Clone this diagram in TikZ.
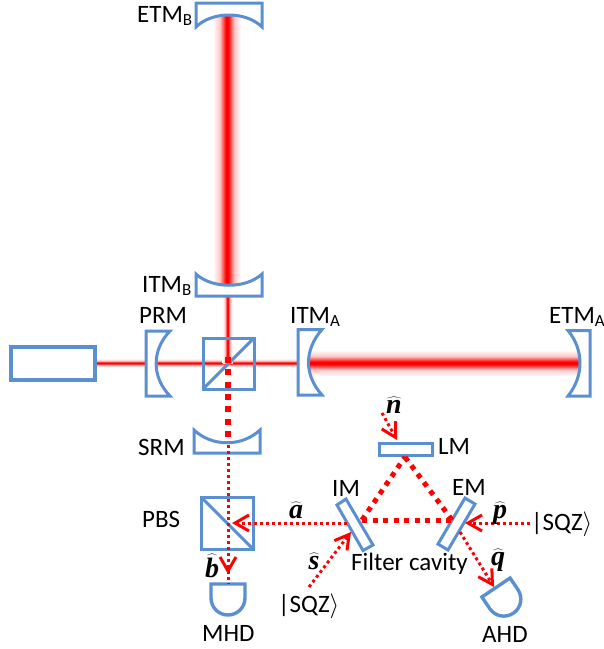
\documentclass[tikz,border=0pt]{standalone}
\usepackage{fontspec}
\setmainfont{Carlito}
\newfontfamily\hatfont{Liberation Serif}[BoldItalicFont=* Bold Italic]
\usetikzlibrary{arrows.meta,calc}
\definecolor{optic}{HTML}{5A8FD2}
\definecolor{beamred}{HTML}{FF0000}
\pgfdeclarehorizontalshading{beamh}{100bp}{rgb(0bp)=(1,1,1);rgb(25bp)=(1,1,1);rgb(37bp)=(1,.78,.78);rgb(45bp)=(1,.2,.2);rgb(48bp)=(1,0,0);rgb(52bp)=(1,0,0);rgb(55bp)=(1,.2,.2);rgb(63bp)=(1,.78,.78);rgb(75bp)=(1,1,1);rgb(100bp)=(1,1,1)}
\pgfdeclareverticalshading{beamv}{100bp}{rgb(0bp)=(1,1,1);rgb(25bp)=(1,1,1);rgb(37bp)=(1,.78,.78);rgb(45bp)=(1,.2,.2);rgb(48bp)=(1,0,0);rgb(52bp)=(1,0,0);rgb(55bp)=(1,.2,.2);rgb(63bp)=(1,.78,.78);rgb(75bp)=(1,1,1);rgb(100bp)=(1,1,1)}
\newcommand{\hatlab}[1]{$\widehat{\hbox{\hatfont\bfseries\itshape #1}}$}
\newcommand{\subs}[1]{\raisebox{-0.28ex}{\fontsize{17}{17}\selectfont #1}}
\newcommand{\sqzket}{|SQZ$\rangle$}
\tikzset{
  x=1pt,y=-1pt,
  opticline/.style={draw=optic,line width=3pt,fill=white,line join=miter},
  boxline/.style={draw=optic,line width=3pt,inner sep=0pt,outer sep=0pt},
  lab/.style={inner sep=0pt,anchor=base west,font=\fontsize{25}{27}\selectfont,text=black},
  hlab/.style={inner sep=0pt,anchor=base,font=\fontsize{28}{30}\selectfont,text=black},
  thindot/.style={draw=beamred,line width=3pt,dash pattern=on 3pt off 3pt},
  thickdot/.style={draw=beamred,line width=5.8pt,dash pattern=on 6pt off 6.3pt},
  cavdot/.style={draw=beamred,line width=5pt,dash pattern=on 5pt off 5.5pt},
  tipped/.style={thindot,-{Straight Barb[length=14pt,width=16pt,line width=3pt]}},
  detector/.pic={
    \draw[draw=optic,line width=3.4pt,line join=miter,fill=white]
      (-17,0) -- (17,0) -- (17,14)
      .. controls (17,23.4) and (9.4,31) .. (0,31)
      .. controls (-9.4,31) and (-17,23.4) .. (-17,14) -- cycle;
  },
}
\begin{document}
\begin{tikzpicture}
\useasboundingbox (0,0) rectangle (604,649);
% anchor points
\coordinate (ctr) at (228,363);
\coordinate (srmtop) at (228,445);
\coordinate (imhit) at (362,520);
\coordinate (emhit) at (452,520);
\coordinate (lmhit) at (405,457);
\coordinate (mhdtop) at (228,584);
\coordinate (btip) at (228,574);
\coordinate (atip) at (232,523);
\coordinate (imback) at (347,523);
\coordinate (sstart) at (309,587);
\coordinate (stip) at (351,532);
\coordinate (pstart) at (530,523);
\coordinate (ptip) at (465,523);
\coordinate (qstart) at (460,532);
\coordinate (qtip) at (494,587);
\coordinate (nstart) at (382,413);
\coordinate (ntip) at (397,440);
% beams
\shade[shading=beamv] (96,358.5) rectangle (300,367.5);
\shade[shading=beamv] (305,350) rectangle (582,376);
\shade[shading=beamh] (213,10) rectangle (241,290);
\shade[shading=beamh] (222.5,292) rectangle (232.5,363);
% laser
\node[draw=optic,line width=3.8pt,inner sep=0pt,outer sep=0pt,minimum width=84pt,minimum height=33pt,fill=white] (laser) at (53,363.5) {};
% mirrors
\path[opticline] (196,3) -- (262,3) -- (262,27) .. controls (246,11) and (212,11) .. (196,27) -- cycle;
\path[opticline] (196,274) .. controls (212,289) and (246,289) .. (262,274) -- (262,296) -- (196,296) -- cycle;
\path[opticline] (146,331) -- (170,331) .. controls (151.5,350) and (151.5,377) .. (170,396) -- (146,396) -- cycle;
\path[opticline] (298,329.5) -- (322,329.5) .. controls (304,350) and (304,375) .. (322,395) -- (298,395) -- cycle;
\path[opticline] (590,330.5) -- (568,330.5) .. controls (584,350) and (584,376) .. (568,396) -- (590,396) -- cycle;
\path[opticline] (194,430) .. controls (212,447) and (242,447) .. (260,430) -- (260,453) -- (194,453) -- cycle;
% beam splitter
\node[boxline,minimum size=51pt] (bs) at (228.5,363.5) {};
\draw[draw=optic,line width=3pt] (bs.south west) -- (bs.north east);
% PBS
\node[boxline,minimum size=52pt] (pbs) at (227.5,523.5) {};
\draw[draw=optic,line width=3pt] (pbs.north west) -- (pbs.south east);
% filter cavity mirrors
\path[opticline] (337,505) -- (346,499) -- (373,545) -- (363,550.5) -- cycle;
\path[opticline] (465,498) -- (475,504) -- (448,550) -- (438,544) -- cycle;
\node[boxline,fill=white,minimum width=53pt,minimum height=12pt] (lm) at (405.5,449) {};
% detectors
\pic at (228,584) {detector};
\pic[rotate=34] at (496,587.5) {detector};
% dotted beams
\draw[thickdot] ($(ctr)+(0,-6)$) -- ($(srmtop)+(0,-6)$);
\draw[thindot] (srmtop) -- (mhdtop);
\draw[tipped] (srmtop) -- (btip);
\draw[cavdot] (imhit) -- (emhit);
\draw[cavdot] (imhit) -- (lmhit);
\draw[cavdot] (emhit) -- (lmhit);
\draw[tipped] (imback) -- (atip);
\draw[tipped] (sstart) -- (stip);
\draw[tipped] (pstart) -- (ptip);
\draw[tipped] (qstart) -- (qtip);
\draw[tipped] (nstart) -- (ntip);
% labels
\node[lab] (letmb) at (137,22) {ETM\subs{B}};
\node[lab] (litmb) at (142,292) {ITM\subs{B}};
\node[lab] (lprm) at (139,323) {PRM};
\node[lab] (litma) at (290,323) {ITM\subs{A}};
\node[lab] (letma) at (549,323) {ETM\subs{A}};
\node[lab] (lsrm) at (138,455) {SRM};
\node[lab] (lpbs) at (142,527) {PBS};
\node[lab] (lmhd) at (202,641) {MHD};
\node[lab] (lim) at (332,496) {IM};
\node[lab] (llm) at (438,454) {LM};
\node[lab] (lem) at (452,495) {EM};
\node[lab] (lfc) at (351,570) {Filter cavity};
\node[lab] (lahd) at (482,642) {AHD};
\node[lab] (lsqzr) at (531,530) {\sqzket};
\node[lab] (lsqzl) at (278,612) {\sqzket};
\node[hlab] (la) at (296,518) {\hatlab{a}};
\node[hlab] (ls) at (314,569) {\hatlab{s}};
\node[hlab] (lb) at (212,577) {\hatlab{b}};
\node[hlab] (ln) at (394,413) {\hatlab{n}};
\node[hlab] (lp) at (500,518) {\hatlab{p}};
\node[hlab] (lq) at (498,565) {\hatlab{q}};
\end{tikzpicture}
\end{document}
